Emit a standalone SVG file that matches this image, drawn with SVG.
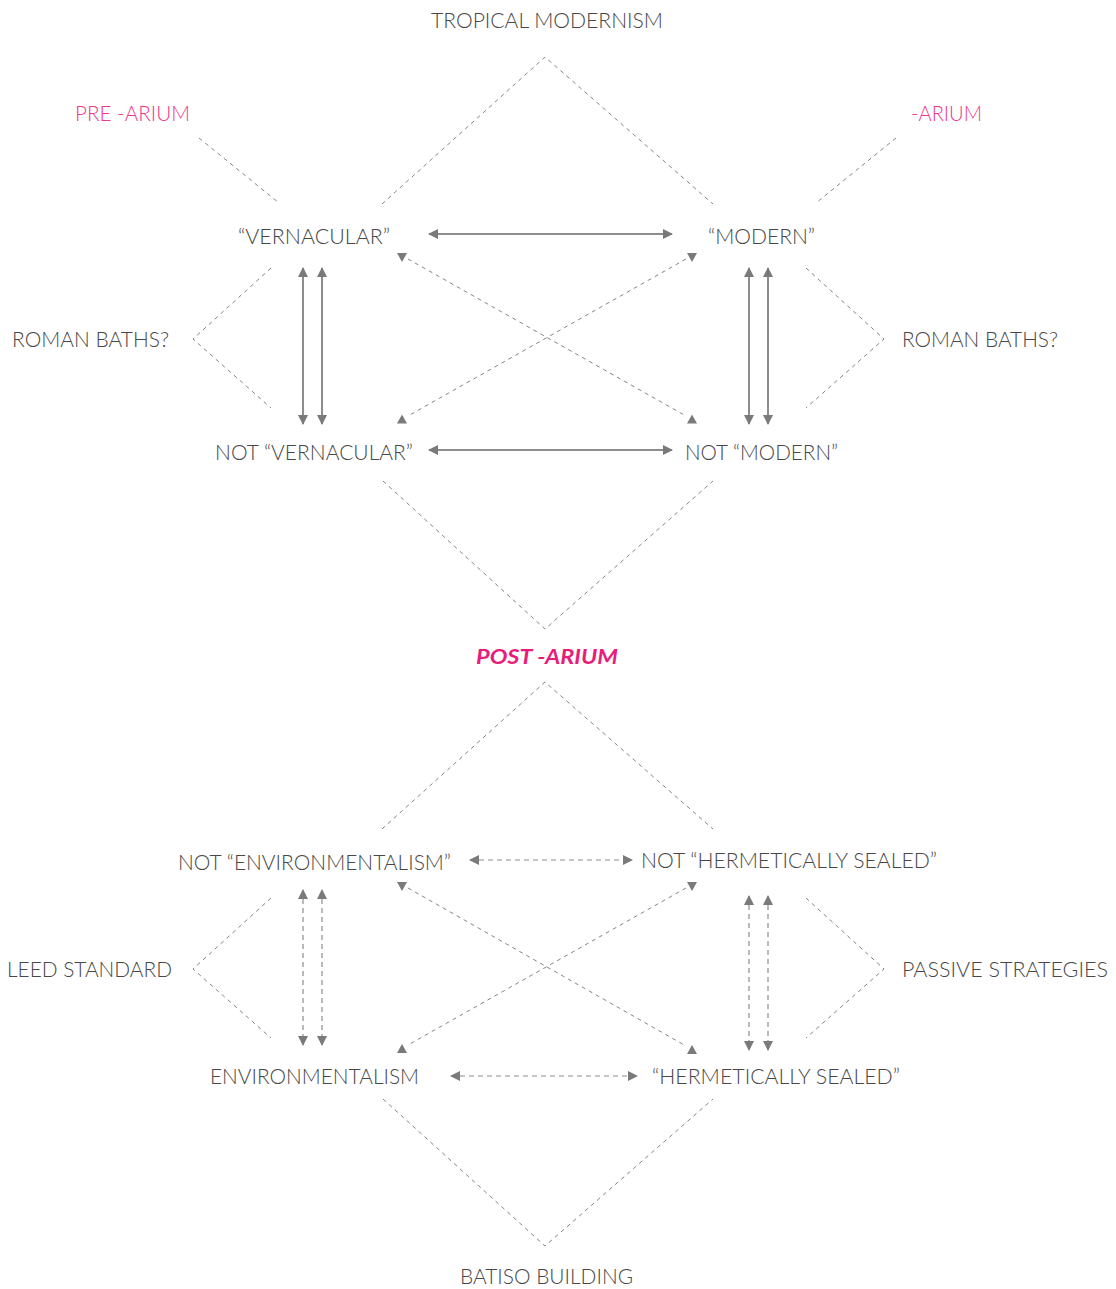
<svg xmlns="http://www.w3.org/2000/svg" width="1116" height="1289" viewBox="0 0 1116 1289">
  <style>
    .lbl { font-family: Lato, "Open Sans", "Liberation Sans", sans-serif; font-weight: 300; font-size: 21px; fill: #474747; }
    .pink { fill: #ec3b86; }
    .post { font-family: Lato, "Open Sans", "Liberation Sans", sans-serif; font-weight: 700; font-style: italic; font-size: 21px; fill: #e81d7a; }
    .guide { fill: none; stroke: #858585; stroke-width: 1; stroke-dasharray: 4 4; }
    .solid { fill: none; stroke: #8d8d8d; stroke-width: 2; }
    .dash { fill: none; stroke: #8d8d8d; stroke-width: 1.2; stroke-dasharray: 5 4; }
    .head { fill: #7a7a7a; }
  </style>
  <defs>
    <marker id="arr" viewBox="0 0 10 10" refX="9" refY="5" markerWidth="10" markerHeight="10" markerUnits="userSpaceOnUse" orient="auto-start-reverse">
      <path d="M0,0 L10,5 L0,10 z" class="head"/>
    </marker>
    <polygon id="tdown" points="-5,-4.5 5,-4.5 0,4.5" class="head"/>
    <polygon id="tup" points="-5,4.5 5,4.5 0,-4.5" class="head"/>
  </defs>

  <rect width="1116" height="1289" fill="#ffffff"/>

  <!-- connectors -->
  <g id="connectors">
    <!-- upper diamonds -->
    <polyline class="guide" points="382,204 545,57 713,204"/>
    <line class="guide" x1="199" y1="138" x2="279" y2="203"/>
    <line class="guide" x1="896" y1="138" x2="816" y2="203"/>
    <polyline class="guide" points="271,268 193,339 271,408"/>
    <polyline class="guide" points="806,268 884,339 806,408"/>
    <polyline class="guide" points="383,481 545,629 713,481"/>
    <!-- lower diamonds -->
    <polyline class="guide" points="382,829 545,682 713,829"/>
    <polyline class="guide" points="271,898 193,969 271,1038"/>
    <polyline class="guide" points="806,898 884,969 806,1038"/>
    <polyline class="guide" points="383,1099 545,1246 713,1099"/>

    <!-- upper square: solid arrows -->
    <line class="solid" x1="429" y1="234" x2="672" y2="234" marker-start="url(#arr)" marker-end="url(#arr)"/>
    <line class="solid" x1="429" y1="450" x2="672" y2="450" marker-start="url(#arr)" marker-end="url(#arr)"/>
    <line class="solid" x1="303" y1="268" x2="303" y2="424" marker-start="url(#arr)" marker-end="url(#arr)"/>
    <line class="solid" x1="322" y1="268" x2="322" y2="424" marker-start="url(#arr)" marker-end="url(#arr)"/>
    <line class="solid" x1="749" y1="268" x2="749" y2="424" marker-start="url(#arr)" marker-end="url(#arr)"/>
    <line class="solid" x1="768" y1="268" x2="768" y2="424" marker-start="url(#arr)" marker-end="url(#arr)"/>
    <!-- upper crossing diagonals -->
    <line class="guide" x1="408" y1="259" x2="686" y2="416"/>
    <line class="guide" x1="686" y1="259" x2="408" y2="416"/>
    <use href="#tdown" x="402" y="257.5"/>
    <use href="#tdown" x="692" y="257.5"/>
    <use href="#tup" x="402" y="419"/>
    <use href="#tup" x="692" y="419"/>

    <!-- lower square: dashed arrows -->
    <line class="dash" x1="470" y1="860" x2="632" y2="860" marker-start="url(#arr)" marker-end="url(#arr)"/>
    <line class="dash" x1="451" y1="1076" x2="637" y2="1076" marker-start="url(#arr)" marker-end="url(#arr)"/>
    <line class="dash" x1="303" y1="890" x2="303" y2="1045" marker-start="url(#arr)" marker-end="url(#arr)"/>
    <line class="dash" x1="322" y1="890" x2="322" y2="1045" marker-start="url(#arr)" marker-end="url(#arr)"/>
    <line class="dash" x1="749" y1="896" x2="749" y2="1050" marker-start="url(#arr)" marker-end="url(#arr)"/>
    <line class="dash" x1="768" y1="896" x2="768" y2="1050" marker-start="url(#arr)" marker-end="url(#arr)"/>
    <!-- lower crossing diagonals -->
    <line class="guide" x1="408" y1="888" x2="686" y2="1046"/>
    <line class="guide" x1="686" y1="888" x2="408" y2="1045"/>
    <use href="#tdown" x="402" y="886.5"/>
    <use href="#tdown" x="692" y="886.5"/>
    <use href="#tup" x="402" y="1048.5"/>
    <use href="#tup" x="692" y="1049.5"/>
  </g>

  <!-- nodes -->
  <g id="n-tropical"><text class="lbl" x="431" y="28" textLength="232" lengthAdjust="spacingAndGlyphs">TROPICAL MODERNISM</text></g>
  <g id="n-prearium"><text class="lbl pink" x="75" y="121" textLength="115" lengthAdjust="spacingAndGlyphs">PRE -ARIUM</text></g>
  <g id="n-arium"><text class="lbl pink" x="911" y="121" textLength="71" lengthAdjust="spacingAndGlyphs">-ARIUM</text></g>
  <g id="n-vernacular"><text class="lbl" x="238" y="244" textLength="152" lengthAdjust="spacingAndGlyphs">“VERNACULAR”</text></g>
  <g id="n-modern"><text class="lbl" x="708" y="244" textLength="107" lengthAdjust="spacingAndGlyphs">“MODERN”</text></g>
  <g id="n-baths-left"><text class="lbl" x="12" y="347" textLength="157" lengthAdjust="spacingAndGlyphs">ROMAN BATHS?</text></g>
  <g id="n-baths-right"><text class="lbl" x="902" y="347" textLength="156" lengthAdjust="spacingAndGlyphs">ROMAN BATHS?</text></g>
  <g id="n-not-vernacular"><text class="lbl" x="215" y="460" textLength="198" lengthAdjust="spacingAndGlyphs">NOT “VERNACULAR”</text></g>
  <g id="n-not-modern"><text class="lbl" x="685" y="460" textLength="153" lengthAdjust="spacingAndGlyphs">NOT “MODERN”</text></g>
  <g id="n-postarium"><text class="post" x="476" y="664" textLength="142" lengthAdjust="spacingAndGlyphs">POST -ARIUM</text></g>
  <g id="n-not-env"><text class="lbl" x="178" y="870" textLength="273" lengthAdjust="spacingAndGlyphs">NOT “ENVIRONMENTALISM”</text></g>
  <g id="n-not-sealed"><text class="lbl" x="641" y="868" textLength="296" lengthAdjust="spacingAndGlyphs">NOT “HERMETICALLY SEALED”</text></g>
  <g id="n-leed"><text class="lbl" x="7" y="977" textLength="165" lengthAdjust="spacingAndGlyphs">LEED STANDARD</text></g>
  <g id="n-passive"><text class="lbl" x="902" y="977" textLength="206" lengthAdjust="spacingAndGlyphs">PASSIVE STRATEGIES</text></g>
  <g id="n-env"><text class="lbl" x="210" y="1084" textLength="209" lengthAdjust="spacingAndGlyphs">ENVIRONMENTALISM</text></g>
  <g id="n-sealed"><text class="lbl" x="652" y="1084" textLength="248" lengthAdjust="spacingAndGlyphs">“HERMETICALLY SEALED”</text></g>
  <g id="n-batiso"><text class="lbl" x="460" y="1284" textLength="173" lengthAdjust="spacingAndGlyphs">BATISO BUILDING</text></g>
</svg>
